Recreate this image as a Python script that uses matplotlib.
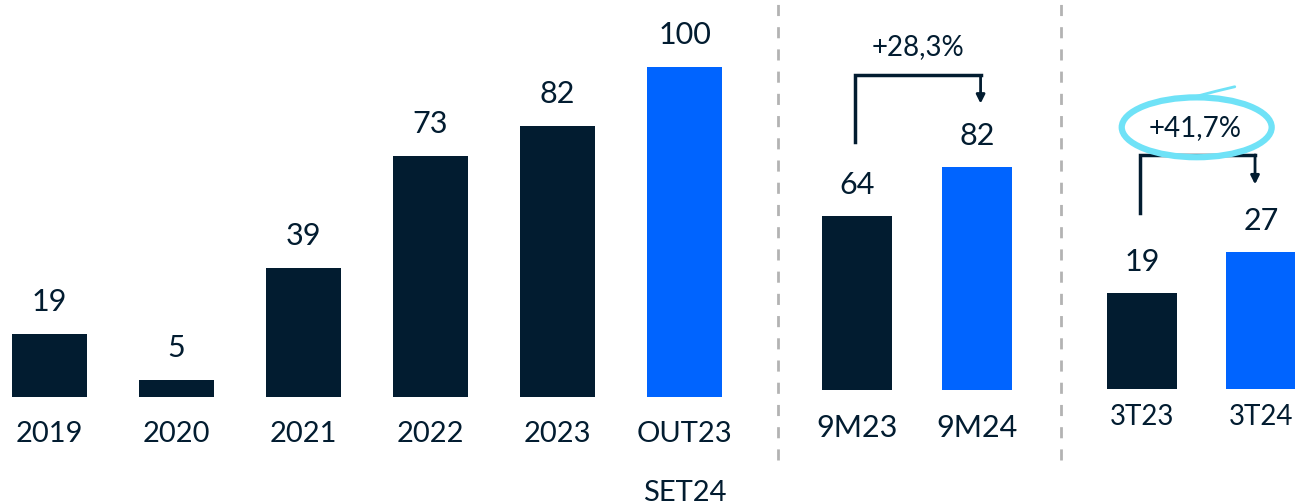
import matplotlib.pyplot as plt
from matplotlib.patches import Ellipse
from matplotlib.lines import Line2D

# data
years = ["2019", "2020", "2021", "2022", "2023", "OUT23\nSET24"]
years_vals = [19, 5, 39, 73, 82, 100]
nine_m = ["9M23", "9M24"]
nine_m_vals = [64, 82]
quarters = ["3T23", "3T24"]
quarters_vals = [19, 27]
growth_9m = "+28,3%"
growth_3t = "+41,7%"

DARK = "#021c30"
BLUE = "#0064ff"
CYAN = "#6fe2f7"
W, H = 1295, 504

plt.rcParams["font.family"] = ["Lato", "DejaVu Sans"]
fig = plt.figure(figsize=(W / 100, H / 100), dpi=100)


def px_axes(x0, x1, base):
    # axes rectangle from pixel coords (top-left origin)
    return fig.add_axes([x0 / W, (H - base) / H, (x1 - x0) / W, base / H])


def style(ax):
    for s in ax.spines.values():
        s.set_visible(False)
    ax.set_yticks([])
    ax.tick_params(axis="x", length=0)


# left panel: yearly
ax1 = px_axes(0, 760, 397)
cols1 = [DARK] * 5 + [BLUE]
x1 = range(len(years))
ax1.bar(x1, years_vals, width=0.59, color=cols1)
ax1.set_xlim(-0.39, 5.594)
ax1.set_ylim(0, 120.3)
for i, v in zip(x1, years_vals):
    ax1.annotate(str(v), (i, v), xytext=(0, 13), textcoords="offset points",
                 ha="center", va="bottom", fontsize=22, color=DARK)
ax1.set_xticks(list(x1))
ax1.set_xticklabels(years, fontsize=21, color=DARK, linespacing=2.6,
                    va="top")
ax1.tick_params(axis="x", pad=17)
style(ax1)

# middle panel: 9M
ax2 = px_axes(780, 1060, 390)
ax2.bar([0, 1], nine_m_vals, width=0.583, color=[DARK, BLUE])
ax2.set_xlim(-0.642, 1.692)
ax2.set_ylim(0, 143.4)
for i, v in enumerate(nine_m_vals):
    ax2.annotate(str(v), (i, v), xytext=(0, 12), textcoords="offset points",
                 ha="center", va="bottom", fontsize=22, color=DARK)
ax2.set_xticks([0, 1])
ax2.set_xticklabels(nine_m, fontsize=22, color=DARK)
ax2.tick_params(axis="x", pad=17)
style(ax2)
ax2.plot([-0.02, -0.02, 1.03], [91.2, 115.8, 115.8], color=DARK, lw=2.5,
         clip_on=False, solid_joinstyle="miter")
ax2.annotate("", xy=(1.03, 104.3), xytext=(1.03, 116.6),
             arrowprops=dict(arrowstyle="-|>,head_width=0.25,head_length=0.5",
                             color=DARK, lw=2), annotation_clip=False)
ax2.text(0.51, 126.0, growth_9m, ha="center", va="center", fontsize=20,
         color=DARK, clip_on=False)

# right panel: quarters
ax3 = px_axes(1062, 1295, 389)
ax3.bar([0, 1], quarters_vals, width=0.59, color=[DARK, BLUE])
ax3.set_xlim(-0.672, 1.286)
ax3.set_ylim(0, 76.7)
for i, v in enumerate(quarters_vals):
    ax3.annotate(str(v), (i, v), xytext=(0, 12), textcoords="offset points",
                 ha="center", va="bottom", fontsize=22, color=DARK)
ax3.set_xticks([0, 1])
ax3.set_xticklabels(quarters, fontsize=20, color=DARK)
ax3.tick_params(axis="x", pad=11)
style(ax3)
ax3.plot([-0.02, -0.02, 0.95], [34.7, 46.2, 46.2], color=DARK, lw=2.5,
         clip_on=False, solid_joinstyle="miter")
ax3.annotate("", xy=(0.95, 39.8), xytext=(0.95, 46.7),
             arrowprops=dict(arrowstyle="-|>,head_width=0.25,head_length=0.5",
                             color=DARK, lw=2), annotation_clip=False)
ax3.text(0.45, 51.5, growth_3t, ha="center", va="center", fontsize=20,
         color=DARK, clip_on=False, zorder=5)
# hand-drawn style highlight
ax3.add_patch(Ellipse((0.46, 51.6), 1.26, 11.8, fill=False, ec=CYAN, lw=4.5,
                      clip_on=False, zorder=4))
ax3.plot([0.44, 0.62, 0.78], [57.6, 58.7, 59.6], color=CYAN, lw=2,
         clip_on=False, zorder=4, solid_capstyle="round")

# dashed separators
for xp in (778, 1061):
    fig.add_artist(Line2D([xp / W, xp / W], [(H - 460) / H, 1.0], color="#b3b3b3",
                          lw=2, ls=(0, (4, 4))))

fig.savefig("out.png", dpi=100)
